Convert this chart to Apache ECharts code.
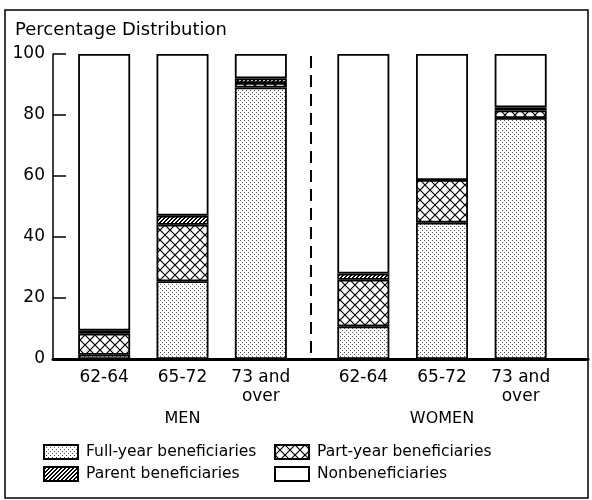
<!DOCTYPE html>
<html>
<head>
<meta charset="utf-8">
<script src="https://cdn.jsdelivr.net/npm/echarts@6/dist/echarts.min.js"></script>
<style>
  html, body { margin: 0; padding: 0; background: #fff; }
  #chart { width: 592px; height: 500px; }
</style>
</head>
<body>
<div id="chart"></div>
<script>
const categories = ['62-64', '65-72', '73 and\nover']
const groups = ['MEN', 'WOMEN']
const yTicks = [0, 20, 40, 60, 80, 100]

// percent of each age group, bottom to top
const menFull = [1.4, 25.5, 89]
const menPart = [6.9, 18.5, 1.5]
const menParent = [1.0, 3, 1.5]
const menNon = [90.7, 53, 8]

const womenFull = [10.7, 44.7, 79]
const womenPart = [15.3, 14, 2.5]
const womenParent = [2, 0, 1]
const womenNon = [72, 41.3, 17.5]

const seriesNames = ['Full-year beneficiaries', 'Part-year beneficiaries', 'Parent beneficiaries', 'Nonbeneficiaries']

const font = 'DejaVu Sans'

// small canvas tiles for the fill patterns
function makePattern(size, draw) {
  const c = document.createElement('canvas')
  c.width = size
  c.height = size
  const ctx = c.getContext('2d')
  ctx.fillStyle = '#fff'
  ctx.fillRect(0, 0, size, size)
  draw(ctx)
  return { image: c, repeat: 'repeat' }
}

const dots = makePattern(4, ctx => {
  ctx.fillStyle = '#555'
  ctx.fillRect(0, 0, 1, 1)
  ctx.fillRect(2, 2, 1, 1)
})

const cross = makePattern(10, ctx => {
  ctx.strokeStyle = '#000'
  ctx.lineWidth = 1.2
  ctx.beginPath()
  ctx.moveTo(-1, -1); ctx.lineTo(11, 11)
  ctx.moveTo(11, -1); ctx.lineTo(-1, 11)
  ctx.stroke()
})

const hatch = makePattern(4, ctx => {
  ctx.fillStyle = '#000'
  for (let i = 0; i < 4; i++) {
    ctx.fillRect((i + 2) % 4, 3 - i, 1, 1)
    ctx.fillRect((i + 3) % 4, 3 - i, 1, 1)
  }
})

const fills = [dots, cross, hatch, '#fff']

const menData = [menFull, menPart, menParent, menNon]
const womenData = [womenFull, womenPart, womenParent, womenNon]

function groupSeries(data, axisIndex, stackName) {
  return data.map((values, i) => ({
    name: seriesNames[i],
    type: 'bar',
    stack: stackName,
    xAxisIndex: axisIndex,
    yAxisIndex: axisIndex,
    barWidth: 52,
    itemStyle: { color: fills[i], borderColor: '#000', borderWidth: 1.8 },
    emphasis: { disabled: true },
    data: values
  }))
}

const chart = echarts.init(document.getElementById('chart'), null, { renderer: 'canvas' })

const xGroupAxis = (idx, name) => ({
  type: 'category',
  gridIndex: idx,
  data: categories,
  axisLine: { show: false },
  axisTick: { show: false },
  axisLabel: { color: '#000', fontFamily: font, fontSize: 17, lineHeight: 19, margin: 9 },
  name: name,
  nameLocation: 'middle',
  nameGap: 52,
  nameTextStyle: { color: '#000', fontFamily: font, fontSize: 16 }
})

const yHidden = idx => ({
  type: 'value', gridIndex: idx, min: 0, max: 100, show: false
})

const legendBase = {
  orient: 'vertical',
  top: 439,
  icon: 'rect',
  itemWidth: 34,
  itemHeight: 14,
  itemGap: 6,
  selectedMode: false,
  textStyle: { color: '#000', fontFamily: font, fontSize: 15.5, padding: [0, 0, 0, 3] }
}

chart.setOption({
  animation: false,
  title: {
    text: 'Percentage Distribution',
    left: 10,
    top: 16,
    textStyle: { color: '#000', fontFamily: font, fontSize: 18, fontWeight: 'normal' }
  },
  legend: [
    Object.assign({}, legendBase, { data: [seriesNames[0], seriesNames[2]], left: 38 }),
    Object.assign({}, legendBase, { data: [seriesNames[1], seriesNames[3]], left: 269 })
  ],
  grid: [
    { left: 53, right: 4, top: 54, bottom: 141 },
    { left: 65, width: 235, top: 54, bottom: 141 },
    { left: 324, width: 236, top: 54, bottom: 141 }
  ],
  xAxis: [
    {
      type: 'category',
      gridIndex: 0,
      data: [''],
      axisLine: { lineStyle: { color: '#000', width: 3 } },
      axisTick: { show: false },
      axisLabel: { show: false }
    },
    xGroupAxis(1, groups[0]),
    xGroupAxis(2, groups[1])
  ],
  yAxis: [
    {
      type: 'value',
      gridIndex: 0,
      min: yTicks[0],
      max: yTicks[yTicks.length - 1],
      interval: 20,
      splitLine: { show: false },
      axisLine: { show: true, lineStyle: { color: '#000', width: 1.5 } },
      axisTick: { show: true, inside: true, length: 13, lineStyle: { color: '#000', width: 1.5 } },
      axisLabel: { color: '#000', fontFamily: font, fontSize: 17, margin: 8 }
    },
    yHidden(1),
    yHidden(2)
  ],
  graphic: [
    // outer frame
    {
      type: 'rect',
      shape: { x: 5, y: 10, width: 583, height: 488 },
      style: { fill: 'none', stroke: '#000', lineWidth: 1.5 },
      silent: true
    },
    // dashed divider between men and women
    {
      type: 'line',
      shape: { x1: 311, y1: 56, x2: 311, y2: 358 },
      style: { stroke: '#000', lineWidth: 2, lineDash: [12, 7] },
      silent: true
    }
  ],
  series: groupSeries(menData, 1, 'men').concat(groupSeries(womenData, 2, 'women'))
})
</script>
</body>
</html>
